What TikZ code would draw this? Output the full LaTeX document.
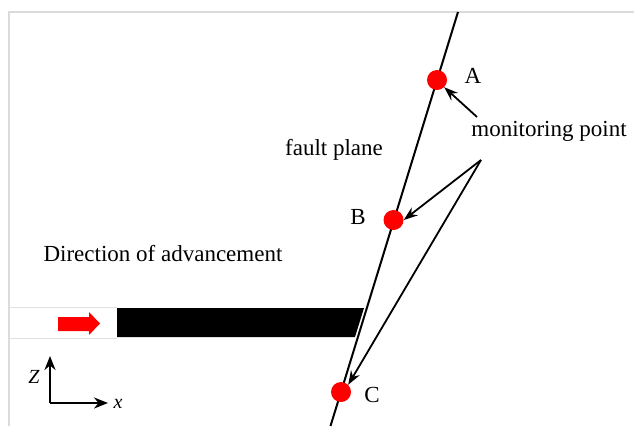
\documentclass[tikz,border=0pt]{standalone}
\usepackage{fontspec}
\setmainfont{Liberation Serif}
\usetikzlibrary{arrows.meta}
\begin{document}
\begin{tikzpicture}[x=1pt,y=-1pt,
  lbl/.style={font=\fontsize{23}{26}\selectfont, inner sep=0pt},
  dot/.style={circle, fill=red, minimum size=20pt, inner sep=0pt},
  frameline/.style={draw=black!14, line width=2pt},
  pointer/.style={line width=1.8pt, -{Stealth[length=14pt,width=10pt]}},
  axis/.style={line width=2.2pt, -{Stealth[length=14pt,width=11pt]}}]
\useasboundingbox (0,0) rectangle (634,426);
% frame
\draw[frameline] (8,12) -- (634,12);
\draw[frameline] (9,12) -- (9,426);
% tunnel
\draw[draw=black!12, line width=1pt] (10,307) -- (117,307);
\draw[draw=black!12, line width=1pt] (10,338) -- (117,338);
\fill[black] (117,308) -- (364,308) -- (355,337) -- (117,337) -- cycle;
\fill[red] (58,317) -- (89,317) -- (89,312) -- (100,323.5) -- (89,335) -- (89,331) -- (58,331) -- cycle;
% fault line
\coordinate (ftop) at (458,12);
\coordinate (fbot) at (330.5,426);
\draw[line width=2pt] (ftop) -- (fbot);
% monitoring points
\node[dot] (A) at (437,80) {};
\node[dot] (B) at (393.5,220) {};
\node[dot] (C) at (341,392) {};
\node[lbl] (Al) at (473,76) {A};
\node[lbl] (Bl) at (358,217) {B};
\node[lbl] (Cl) at (372,395) {C};
% labels
\node[lbl] (mp) at (549,131) {monitoring point};
\node[lbl] (fp) at (334,150) {fault plane};
\node[lbl] (dir) at (163,254) {Direction of advancement};
% pointers
\coordinate (srcA) at (477,117);
\coordinate (src) at (481,160);
\draw[pointer] (srcA) -- (A.south east);
\draw[pointer] (src) -- (B.east);
\draw[pointer] (src) -- (C.north east);
% axes
\coordinate (o) at (50,403);
\coordinate (zt) at (50,356);
\coordinate (xt) at (108,403);
\draw[axis] (o) -- (zt);
\draw[axis] (o) -- (xt);
\node[lbl, font=\fontsize{20}{23}\selectfont\itshape] (zl) at (34,377) {Z};
\node[lbl, font=\fontsize{20}{23}\selectfont\itshape] (xl) at (118,404) {x};
\end{tikzpicture}
\end{document}
